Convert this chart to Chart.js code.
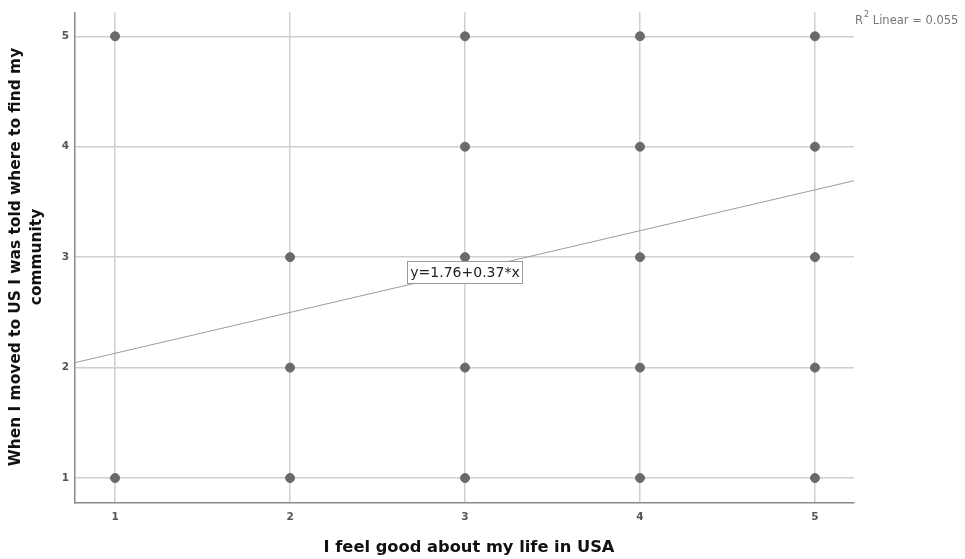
<!DOCTYPE html>
<html><head><meta charset="utf-8">
<script src="https://cdn.jsdelivr.net/npm/chart.js@4/dist/chart.umd.min.js"></script>
<style>html,body{margin:0;padding:0;background:#fff}#wrap{width:965px;height:559px;position:relative}</style>
</head><body><div id="wrap"><canvas id="c" width="965" height="559"></canvas></div>
<script>
// Data
const pointX = [1, 1, 2, 2, 2, 3, 3, 3, 3, 3, 4, 4, 4, 4, 4, 5, 5, 5, 5, 5];
const pointY = [5, 1, 3, 2, 1, 5, 4, 3, 2, 1, 5, 4, 3, 2, 1, 5, 4, 3, 2, 1];
const fitLineX = [0.771, 5.223];
const fitLineY = [2.045, 3.692];
const xTicks = [1, 2, 3, 4, 5];
const yTicks = [1, 2, 3, 4, 5];
const xTitle = 'I feel good about my life in USA';
const yTitle = ['When I moved to US I was told where to find my', 'community'];
const equationText = 'y=1.76+0.37*x';
const r2Text = ' Linear = 0.055';

const pts = pointX.map((x, i) => ({x: x, y: pointY[i]}));
const fit = fitLineX.map((x, i) => ({x: x, y: fitLineY[i]}));

const annot = {
  id: 'annot',
  afterDraw(chart) {
    const ctx = chart.ctx, a = chart.chartArea;
    const xs = chart.scales.x, ys = chart.scales.y;
    ctx.save();
    // x title
    ctx.fillStyle = '#111';
    ctx.font = 'bold 16.3px "DejaVu Sans"';
    ctx.textAlign = 'center'; ctx.textBaseline = 'middle';
    ctx.fillText(xTitle, 469, 548);
    // y title
    ctx.save();
    ctx.font = 'bold 15.4px "DejaVu Sans"';
    ctx.translate(0, 257);
    ctx.rotate(-Math.PI / 2);
    ctx.fillText(yTitle[0], 0, 16);
    ctx.fillText(yTitle[1], 0, 37);
    ctx.restore();
    // equation box
    ctx.font = '14px "DejaVu Sans"';
    const ex = xs.getPixelForValue(3), ey = ys.getPixelForValue(2.865);
    const w = ctx.measureText(equationText).width + 6;
    ctx.fillStyle = '#fff';
    ctx.fillRect(ex - w / 2, ey - 11, w, 22);
    ctx.strokeStyle = '#9a9a9a'; ctx.lineWidth = 1;
    ctx.strokeRect(Math.round(ex - w / 2) + 0.5, Math.round(ey - 11) + 0.5, Math.round(w), 22);
    ctx.fillStyle = '#222';
    ctx.fillText(equationText, ex, ey + 1);
    // R2 label
    ctx.fillStyle = '#777';
    ctx.textAlign = 'left';
    ctx.font = '11.5px "DejaVu Sans"';
    let rx = 855;
    ctx.fillText('R', rx, 21);
    rx += ctx.measureText('R').width + 1;
    ctx.font = '8px "DejaVu Sans"';
    ctx.fillText('2', rx, 15);
    rx += ctx.measureText('2').width;
    ctx.font = '11.5px "DejaVu Sans"';
    ctx.fillText(r2Text, rx, 21);
    ctx.restore();
  }
};

new Chart(document.getElementById('c'), {
  type: 'scatter',
  data: {
    datasets: [
      {type: 'line', data: fit, borderColor: '#9d9d9d', borderWidth: 1, pointRadius: 0, fill: false, order: 2},
      {data: pts, backgroundColor: '#6a6a6a', borderColor: '#6a6a6a', pointRadius: 4.5, pointHoverRadius: 4.5, order: 1}
    ]
  },
  options: {
    responsive: false, animation: false,
    layout: {padding: {left: 0, right: 111, top: 12, bottom: 0}},
    plugins: {legend: {display: false}, tooltip: {enabled: false}},
    scales: {
      x: {
        type: 'linear', min: 0.771, max: 5.223,
        afterBuildTicks: s => { s.ticks = xTicks.map(v => ({value: v})); },
        afterFit: s => { s.height = 56; },
        grid: {color: '#cfcfcf', lineWidth: 1.5, drawTicks: false},
        border: {color: '#8a8a8a', width: 1.5},
        ticks: {color: '#555', font: {family: 'DejaVu Sans', size: 10.5, weight: 'bold'}, padding: 8}
      },
      y: {
        type: 'linear', min: 0.774, max: 5.217,
        afterBuildTicks: s => { s.ticks = yTicks.map(v => ({value: v})); },
        afterFit: s => { s.width = 75; },
        grid: {color: '#cfcfcf', lineWidth: 1.5, drawTicks: false},
        border: {color: '#8a8a8a', width: 1.5},
        ticks: {color: '#555', font: {family: 'DejaVu Sans', size: 10.5, weight: 'bold'}, padding: 6}
      }
    }
  },
  plugins: [annot]
});
</script></body></html>
